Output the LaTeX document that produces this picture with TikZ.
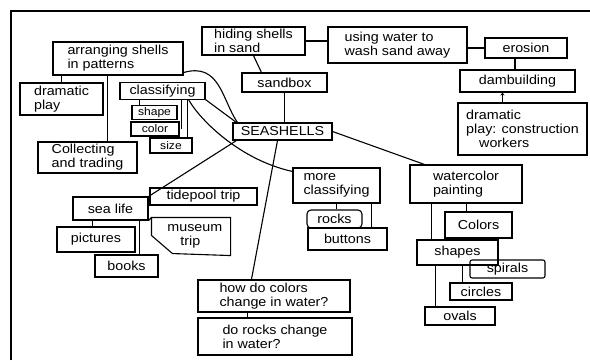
\documentclass[tikz,border=0pt]{standalone}
\usepackage{fontspec}
\setmainfont{Liberation Sans}[FakeStretch=1.1]
\usetikzlibrary{calc,arrows.meta}
\begin{document}
\begin{tikzpicture}[x=1pt,y=-1pt,line width=1.1pt,
  font=\fontsize{13}{14}\selectfont,
  box/.style={draw,rectangle,inner sep=2pt,align=left},
  sbox/.style={box,font=\fontsize{11}{12}\selectfont},
  conn/.style={line width=1.1pt}]
\useasboundingbox (0,0) rectangle (590,360);
\draw (11,360) -- (11,11) -- (590,11);

% nodes
\node[box,minimum width=130,minimum height=33] (arr) at (118,58.5) {arranging shells\\in patterns};
\node[box,minimum width=83,minimum height=32] (dram) at (61.5,99) {dramatic\\play};
\node[box,minimum width=85,minimum height=16] (cls) at (162.5,91) {classifying};
\node[sbox,minimum width=45,minimum height=13] (shape) at (154.5,112.5) {shape};
\node[sbox,minimum width=48,minimum height=14] (color) at (155,129) {color};
\node[sbox,minimum width=42,minimum height=15] (size) at (171,145.5) {size};
\node[box,minimum width=99,minimum height=31] (coll) at (87.5,157.5) {Collecting\\and trading};
\node[box,minimum width=103,minimum height=28] (hide) at (253.5,41) {hiding shells\\in sand};
\node[box,minimum width=139,minimum height=36] (wash) at (397.5,45) {using water to\\wash sand away};
\node[box,minimum width=82,minimum height=20] (ero) at (526,48) {erosion};
\node[box,minimum width=115,minimum height=22] (dam) at (517.5,81) {dambuilding};
\node[box,minimum width=129,minimum height=52] (dpc) at (522.5,129) {dramatic\\play: construction\\\hspace{1em}workers};
\node[box,minimum width=85,minimum height=19] (sand) at (284.5,82.5) {sandbox};
\node[box,minimum width=99,minimum height=17] (sea) at (282.5,131.5) {SEASHELLS};
\node[box,minimum width=87,minimum height=35] (mcl) at (336.5,185.5) {more\\classifying};
\node[box,rounded corners=4pt,minimum width=55,minimum height=18] (rocks) at (334.5,219) {rocks};
\node[box,minimum width=79,minimum height=22] (btn) at (347.5,239) {buttons};
\node[box,minimum width=112,minimum height=38] (wcp) at (466,184) {watercolor\\painting};
\node[box,minimum width=67,minimum height=26] (col) at (478.5,225) {Colors};
\node[box,minimum width=81,minimum height=25] (shp) at (457.5,252.5) {shapes};
\node[box,rounded corners=2pt,minimum width=75,minimum height=18] (spi) at (507.5,269) {spirals};
\node[box,minimum width=62,minimum height=17] (cir) at (481,291.5) {circles};
\node[box,minimum width=70,minimum height=18] (ova) at (460,316) {ovals};
\node[box,minimum width=75,minimum height=23] (sl) at (110.5,208.5) {sea life};
\node[box,minimum width=107,minimum height=17] (tide) at (203.5,196.5) {tidepool trip};
\node[align=left,inner sep=2pt,minimum width=78,minimum height=37] (mus) at (191,236.5) {\hspace{0.6em}museum\\\hspace{1.6em}trip};
\draw (mus.north west) -- (mus.north east) -- (mus.south east) -- ($(mus.south west)+(21,-2)$) -- ($(mus.north west)+(0,18)$) -- cycle;
\node[box,minimum width=78,minimum height=25] (pic) at (96,239.5) {pictures};
\node[box,minimum width=63,minimum height=22] (bks) at (126.5,266) {books};
\node[box,minimum width=152,minimum height=32] (hdc) at (274,296) {how do colors\\change in water?};
\node[box,minimum width=154,minimum height=37] (dor) at (275,336.5) {do rocks change\\in water?};

% connectors
\draw[conn] (hide.east) -- (hide.east -| wash.west);
\draw[conn] (wash.east |- ero.west) -- (ero.west);
\draw[conn] ($(ero.south)+(-11,0)$) coordinate (e1) -- (e1 |- dam.north);
\coordinate (e2) at ($(dam.south west)+(43,0)$);
\draw[conn,-{Stealth[length=3pt,width=4pt]}] (e2 |- dpc.north) -- (e2);
\draw[conn] (hide.south) -- ($(sand.north west)+(20,0)$);
\draw[conn] (sand.south) -- (sand.south |- sea.north);
\draw[conn] ($(arr.south east)+(0,-3)$) .. controls (220,62) and (222,100) .. ($(sea.north west)+(5,0)$);
\draw[conn] (dram.north |- arr.south) -- (dram.north);
\draw[conn] ($(arr.south west)+(55,0)$) coordinate (a1) -- (a1 |- coll.north);
\draw[conn] ($(shape.north west)+(8,0)$) coordinate (c1) -- (c1 |- cls.south);
\draw[conn] ($(color.east)+(2,0)$) coordinate (c2) -- (c2 |- cls.south);
\draw[conn] ($(size.north east)+(-5,0)$) coordinate (c3) -- (c3 |- cls.south);
\draw[conn] (cls.south east) -- ($(sea.north west)+(4,0)$);
\draw[conn] ($(cls.south east)+(-17,0)$) .. controls (200,120) and (240,160) .. ($(mcl.north west)+(0,4)$);
\draw[conn] (sea.east) -- ($(wcp.north west)+(15,0)$);
\draw[conn] ($(sea.south west)+(4,0)$) -- (sl.north east);
\draw[conn] ($(sl.north east)+(0,3)$) coordinate (s1) -- (s1 -| tide.west);
\draw[conn] (sl.south east) -- (mus.north west);
\draw[conn] ($(sea.south)+(-5,0)$) -- ($(hdc.north west)+(54,0)$);
\draw[conn] ($(pic.north west)+(36,0)$) coordinate (p1) -- (p1 |- sl.south);
\draw[conn] ($(bks.north west)+(45,0)$) coordinate (b1) -- (b1 |- sl.south);
\draw[conn] ($(rocks.north west)+(30,0)$) coordinate (r1) -- (r1 |- mcl.south);
\draw[conn] ($(btn.north west)+(64,0)$) coordinate (r2) -- (r2 |- mcl.south);
\draw[conn] ($(col.north west)+(22,0)$) coordinate (w1) -- (w1 |- wcp.south);
\draw[conn] ($(shp.north west)+(15,0)$) coordinate (w2) -- (w2 |- wcp.south);
\draw[conn] ($(cir.north west)+(13,0)$) coordinate (h1) -- (h1 |- shp.south);
\draw[conn] ($(ova.north west)+(11,0)$) coordinate (h2) -- (h2 |- shp.south);
\draw[conn] ($(dor.north west)+(50,0)$) coordinate (d1) -- (d1 |- hdc.south);
\end{tikzpicture}
\end{document}
